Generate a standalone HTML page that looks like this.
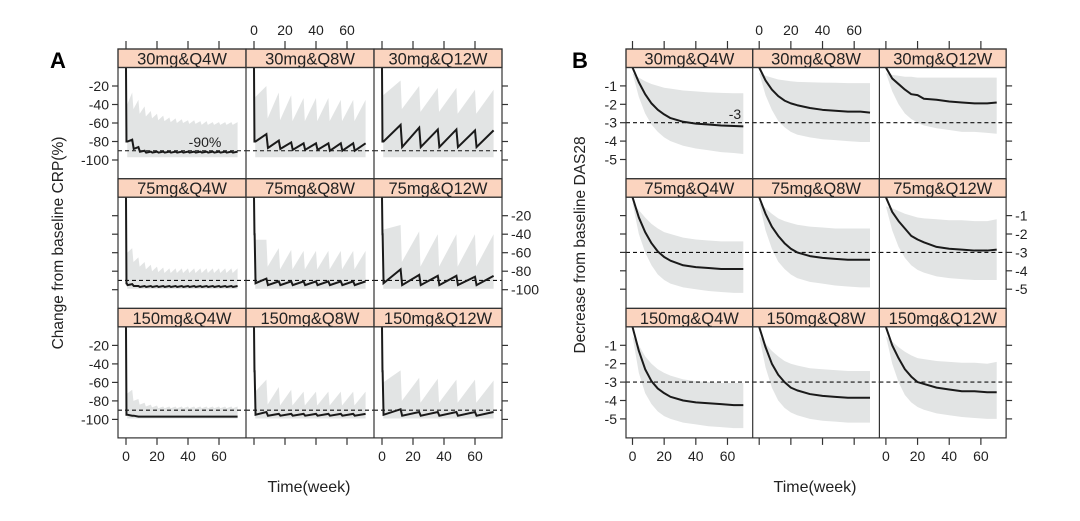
<!DOCTYPE html>
<html><head><meta charset="utf-8">
<style>
html,body{margin:0;padding:0;background:#fff;}
svg{display:block;font-family:"Liberation Sans",Arial,sans-serif;}
</style></head>
<body>
<svg id="chart" width="1080" height="521" viewBox="0 0 1080 521" xmlns="http://www.w3.org/2000/svg">
<text x="50" y="68" font-size="22" font-weight="bold">A</text>
<text x="572" y="68" font-size="22" font-weight="bold">B</text>
<text transform="translate(63,243) rotate(-90)" text-anchor="middle" font-size="15.5" fill="#222">Change from baseline CRP(%)</text>
<text transform="translate(585,245) rotate(-90)" text-anchor="middle" font-size="15.5" fill="#222">Decrease from baseline DAS28</text>
<text x="309" y="492" text-anchor="middle" font-size="16" fill="#222">Time(week)</text>
<text x="815" y="492" text-anchor="middle" font-size="16" fill="#222">Time(week)</text>
</svg>
<script>
// ---------- Data ----------
const doses = ["30mg", "75mg", "150mg"];
const regimens = ["Q4W", "Q8W", "Q12W"];
const intervals = [4, 8, 12];
const aTicks = [-20, -40, -60, -80, -100];
const bTicks = [-1, -2, -3, -4, -5];
const xTicks = [0, 20, 40, 60];
const aTarget = -90;
const bTarget = -3;

// Panel A (CRP % change): per dose event values
const aFirstDrop = [[-80,-80,-80],[-93,-40,-40],[-95,-48,-48]];
const aMedPost = [
 [[-80,-88,-91,-92,-92,-92,-92,-92,-92,-92,-92,-92,-92,-92,-92,-92,-92,-92],
  [-80,-87,-88,-89,-89,-89,-90,-90,-90],
  [-80,-86,-86,-86,-86,-86]],
 [[-95,-96,-97,-97,-97,-97,-97,-97,-97,-97,-97,-97,-97,-97,-97,-97,-97,-97],
  [-93,-95,-95,-95,-95,-95,-95,-95,-95],
  [-93,-95,-95,-95,-95,-95]],
 [[-95,-96,-97,-97,-97,-97,-97,-97,-97,-97,-97,-97,-97,-97,-97,-97,-97,-97],
  [-95,-96,-96,-96,-96,-96,-96,-96,-96],
  [-95,-96,-96,-96,-96,-96]]
];
const aMedPre = [
 [[-78,-86,-90,-91,-91,-91,-91,-91,-91,-91,-91,-91,-91,-91,-91,-91,-91,-91],
  [-72,-79,-81,-82,-82,-82,-82,-82,-82],
  [-62,-65,-67,-67,-68,-68]],
 [[-94,-96,-96,-96,-96,-96,-96,-96,-96,-96,-96,-96,-96,-96,-96,-96,-96,-96],
  [-88,-91,-91,-91,-91,-91,-91,-91,-91],
  [-78,-84,-85,-85,-86,-85]],
 [[-96,-97,-97,-97,-97,-97,-97,-97,-97,-97,-97,-97,-97,-97,-97,-97,-97,-97],
  [-92,-94,-94,-94,-94,-94,-94,-94,-94],
  [-89,-92,-92,-92,-92,-92]]
];
const aUpPost = [
 [[-40,-45,-50,-53,-55,-57,-58,-59,-60,-60,-61,-61,-62,-62,-62,-62,-62,-62],
  [-32,-55,-57,-58,-58,-58,-58,-58,-58],
  [-30,-45,-48,-48,-50,-50]],
 [[-60,-70,-75,-78,-80,-81,-82,-82,-82,-82,-82,-82,-82,-82,-82,-82,-82,-82],
  [-46,-75,-78,-78,-78,-78,-78,-78,-78],
  [-35,-70,-75,-75,-75,-75]],
 [[-72,-80,-84,-86,-87,-88,-88,-88,-88,-88,-88,-88,-88,-88,-88,-88,-88,-88],
  [-70,-84,-85,-85,-85,-85,-85,-85,-85],
  [-60,-80,-82,-82,-82,-82]]
];
const aUpPre = [
 [[-27,-35,-42,-47,-50,-52,-54,-55,-56,-57,-57,-58,-58,-59,-59,-59,-59,-59],
  [-20,-27,-30,-33,-33,-33,-35,-35,-35],
  [-14,-20,-22,-22,-24,-24]],
 [[-55,-65,-70,-73,-75,-76,-77,-77,-77,-77,-77,-77,-77,-77,-77,-77,-77,-77],
  [-46,-55,-57,-58,-58,-58,-58,-58,-58],
  [-30,-37,-40,-40,-40,-40]],
 [[-68,-78,-82,-84,-85,-86,-86,-86,-86,-86,-86,-86,-86,-86,-86,-86,-86,-86],
  [-57,-65,-68,-70,-70,-70,-70,-70,-70],
  [-47,-55,-56,-57,-57,-58]]
];
const aLow = [[-97,-97,-97],[-99,-99,-99],[-99,-99,-99]];

// Panel B (DAS28 decrease)
const bTimes = [0,4,8,12,16,20,24,32,40,48,56,64,70];
const bMed = [
 [[0,-0.8,-1.45,-1.95,-2.3,-2.55,-2.75,-2.95,-3.05,-3.1,-3.15,-3.18,-3.2],
  [0,-0.7,-1.2,-1.55,-1.8,-1.95,-2.05,-2.2,-2.3,-2.35,-2.4,-2.4,-2.45],
  [0,-0.6,-0.9,-1.2,-1.45,-1.5,-1.7,-1.75,-1.85,-1.9,-1.95,-1.95,-1.9]],
 [[0,-1.1,-1.9,-2.5,-2.95,-3.25,-3.45,-3.7,-3.8,-3.85,-3.9,-3.9,-3.9],
  [0,-0.9,-1.6,-2.1,-2.5,-2.8,-3.0,-3.2,-3.3,-3.35,-3.4,-3.4,-3.4],
  [0,-0.8,-1.3,-1.7,-2.1,-2.3,-2.45,-2.7,-2.8,-2.85,-2.9,-2.9,-2.85]],
 [[0,-1.3,-2.3,-2.95,-3.35,-3.6,-3.8,-4.0,-4.1,-4.15,-4.2,-4.25,-4.25],
  [0,-1.1,-2.0,-2.6,-3.0,-3.3,-3.45,-3.65,-3.75,-3.8,-3.85,-3.85,-3.85],
  [0,-1.0,-1.7,-2.3,-2.7,-3.0,-3.1,-3.3,-3.4,-3.5,-3.5,-3.55,-3.55]]
];
const bUp = [
 [[-0.3,-0.55,-0.75,-0.9,-1.0,-1.1,-1.15,-1.25,-1.3,-1.35,-1.38,-1.4,-1.4],
  [-0.3,-0.45,-0.55,-0.65,-0.7,-0.75,-0.78,-0.8,-0.82,-0.83,-0.85,-0.85,-0.85],
  [-0.3,-0.4,-0.45,-0.5,-0.5,-0.55,-0.55,-0.55,-0.55,-0.55,-0.55,-0.55,-0.55]],
 [[-0.3,-0.7,-1.1,-1.45,-1.7,-1.9,-2.0,-2.2,-2.3,-2.35,-2.4,-2.4,-2.4],
  [-0.3,-0.6,-0.9,-1.15,-1.3,-1.4,-1.5,-1.6,-1.65,-1.7,-1.7,-1.7,-1.7],
  [-0.5,-0.6,-0.75,-0.9,-1.0,-1.1,-1.15,-1.2,-1.25,-1.25,-1.3,-1.3,-1.2]],
 [[-0.5,-1.0,-1.6,-2.0,-2.3,-2.5,-2.65,-2.85,-2.95,-3.0,-3.05,-3.05,-3.05],
  [-0.5,-0.9,-1.3,-1.6,-1.85,-2.0,-2.1,-2.25,-2.3,-2.35,-2.4,-2.4,-2.4],
  [-0.5,-0.8,-1.1,-1.35,-1.55,-1.7,-1.75,-1.85,-1.9,-1.95,-1.95,-2.0,-1.9]]
];
const bLo = [
 [[-0.3,-1.6,-2.5,-3.1,-3.5,-3.8,-4.0,-4.25,-4.4,-4.5,-4.6,-4.65,-4.7],
  [-0.3,-1.5,-2.3,-2.9,-3.25,-3.5,-3.65,-3.8,-3.9,-3.95,-4.0,-4.05,-4.05],
  [-0.3,-1.3,-2.0,-2.5,-2.8,-3.0,-3.15,-3.3,-3.4,-3.5,-3.5,-3.55,-3.6]],
 [[-0.3,-2.0,-3.0,-3.7,-4.2,-4.5,-4.7,-4.9,-5.0,-5.1,-5.15,-5.2,-5.2],
  [-0.3,-1.8,-2.8,-3.5,-3.9,-4.2,-4.4,-4.6,-4.7,-4.8,-4.85,-4.9,-4.9],
  [-0.5,-1.8,-2.7,-3.3,-3.7,-3.95,-4.1,-4.3,-4.4,-4.45,-4.5,-4.5,-4.5]],
 [[-0.5,-2.5,-3.6,-4.2,-4.6,-4.85,-5.0,-5.2,-5.3,-5.4,-5.45,-5.5,-5.5],
  [-0.5,-2.2,-3.3,-4.0,-4.4,-4.65,-4.8,-5.0,-5.1,-5.15,-5.2,-5.2,-5.2],
  [-0.5,-2.0,-3.0,-3.7,-4.1,-4.35,-4.5,-4.7,-4.8,-4.9,-4.95,-5.0,-5.0]]
];

// ---------- Layout ----------
const svg = document.getElementById('chart');
const NS = 'http://www.w3.org/2000/svg';
const ROW_STEP = 129.7, STRIP_TOP = 49, STRIP_H = 18.5, PLOT_H = 111;
const A = {left:118, colW:128, x0:8, xs:1.55, ys:0.925, endT:72};
const B = {left:626, colW:126.7, x0:6.5, xs:1.583, ys:18.4, endT:70};
const STRIP = '#fbd4bf', BAND = '#e2e4e4', INK = '#1a1a1a';
const TICK_FS = 14, STRIP_FS = 16.5;

function el(tag, attrs, parent){
  const e = document.createElementNS(NS, tag);
  for (const k in attrs) e.setAttribute(k, attrs[k]);
  (parent||svg).appendChild(e); return e;
}
function plotTop(r){ return STRIP_TOP + r*ROW_STEP + STRIP_H; }
function xA(P,c,t){ return P.left + c*P.colW + P.x0 + t*P.xs; }
function yA(P,r,v){ return plotTop(r) + (-v)*P.ys; }

function drawFrame(P, tag, r, c){
  const g = el('g', {});
  
  
  const x = P.left + c*P.colW, sy = STRIP_TOP + r*ROW_STEP;
  const strip = el('rect', {x:x, y:sy, width:P.colW, height:STRIP_H, fill:STRIP, stroke:'#333', 'stroke-width':1.2}, g);
  
  
  const st = el('text', {x:x+P.colW/2, y:sy+STRIP_H-3, 'text-anchor':'middle', 'font-size':STRIP_FS, fill:'#222'}, g);
  st.textContent = doses[r]+'&'+regimens[c];
  
  
  return g;
}

function drawOuter(P, tag, yTicks, yTickY, labelLeftRows){
  const g = el('g', {});
  
  
  const W = P.colW*3, top = STRIP_TOP, bottom = plotTop(2)+PLOT_H;
  el('rect', {x:P.left, y:top, width:W, height:bottom-top, fill:'none', stroke:'#333', 'stroke-width':1.2}, g);
  for (let c=1;c<3;c++) el('line', {x1:P.left+c*P.colW, x2:P.left+c*P.colW, y1:top, y2:bottom, stroke:'#333','stroke-width':1.2}, g);
  for (let r=0;r<3;r++){
    const pt = plotTop(r);
    el('line', {x1:P.left, x2:P.left+W, y1:pt, y2:pt, stroke:'#333','stroke-width':1.2}, g);
    if (r>0) el('line', {x1:P.left, x2:P.left+W, y1:STRIP_TOP+r*ROW_STEP, y2:STRIP_TOP+r*ROW_STEP, stroke:'#333','stroke-width':1.2}, g);
    yTicks.forEach(v=>{
      const y = yTickY(r, v);
      el('line', {x1:P.left-6, x2:P.left, y1:y, y2:y, stroke:'#333','stroke-width':1.2}, g);
      el('line', {x1:P.left+W, x2:P.left+W+6, y1:y, y2:y, stroke:'#333','stroke-width':1.2}, g);
      const left = labelLeftRows.includes(r);
      const t = el('text', {x: left ? P.left-9 : P.left+W+9, y:y+5, 'text-anchor': left?'end':'start', 'font-size':TICK_FS, fill:'#222'}, g);
      t.textContent = v;
      
      
    });
  }
  for (let c=0;c<3;c++){
    xTicks.forEach(t=>{
      const x = xA(P,c,t);
      el('line', {x1:x, x2:x, y1:top-8, y2:top, stroke:'#333','stroke-width':1.2}, g);
      el('line', {x1:x, x2:x, y1:bottom, y2:bottom+7, stroke:'#333','stroke-width':1.2}, g);
      if (c===1){
        const tl = el('text', {x:x, y:top-14, 'text-anchor':'middle','font-size':TICK_FS, fill:'#222'}, g);
        tl.textContent = t;
        
        
      } else {
        const tl = el('text', {x:x, y:bottom+23, 'text-anchor':'middle','font-size':TICK_FS, fill:'#222'}, g);
        tl.textContent = t;
        
        
      }
    });
  }
}

// ---------- Panel A ----------
for (let r=0;r<3;r++) for (let c=0;c<3;c++){
  const g = drawFrame(A, 'crp', r, c);
  const iv = intervals[c];
  const mp = aMedPost[r][c], mq = aMedPre[r][c], up = aUpPost[r][c], uq = aUpPre[r][c];
  const X = t=>xA(A,c,t), Y = v=>yA(A,r,v);
  let upper = [];
  mp.forEach((_,i)=>{
    const t0 = i*iv, tEnd = Math.min((i+1)*iv, A.endT);
    upper.push([X(t0+0.8), Y(up[i])]);
    upper.push([X(tEnd), Y(uq[i])]);
  });
  upper.unshift([X(0.8), Y(aLow[r][c])]);
  const lower = [[X(A.endT), Y(aLow[r][c])]];
  const band = el('path', {d:'M'+upper.map(p=>p.join(',')).join('L')+'L'+lower.map(p=>p.join(',')).join('L')+'Z', fill:BAND}, g);
  
  
  const tl = el('line', {x1:A.left+c*A.colW, x2:A.left+(c+1)*A.colW, y1:Y(aTarget), y2:Y(aTarget), stroke:'#111','stroke-width':1.1,'stroke-dasharray':'4,3'}, g);
  
  
  let pts = [[X(0),Y(0)],[X(0.3),Y(aFirstDrop[r][c])],[X(0.4),Y(aFirstDrop[r][c])]];
  mp.forEach((_,i)=>{
    const t0 = i*iv, tEnd = Math.min((i+1)*iv, A.endT);
    pts.push([X(t0+1), Y(mp[i])]);
    pts.push([X(tEnd), Y(mq[i])]);
  });
  const med = el('path', {d:'M'+pts.map(p=>p.join(',')).join('L'), fill:'none', stroke:INK,'stroke-width':2}, g);
  
  
}
drawOuter(A, 'crp', aTicks, (r,v)=>yA(A,r,v), [0,2]);
const l90 = el('text', {x:205, y:147, 'text-anchor':'middle','font-size':14, fill:'#222'});
l90.textContent = '-90%';



// ---------- Panel B ----------
for (let r=0;r<3;r++) for (let c=0;c<3;c++){
  const g = drawFrame(B, 'das28', r, c);
  const X = t=>xA(B,c,t), Y = v=>yA(B,r,v);
  const up = bUp[r][c], lo = bLo[r][c], md = bMed[r][c];
  const upperPts = bTimes.map((t,i)=>[X(t),Y(up[i])]);
  const lowerPts = bTimes.map((t,i)=>[X(t),Y(lo[i])]).reverse();
  const band = el('path', {d:'M'+upperPts.concat(lowerPts).map(p=>p.join(',')).join('L')+'Z', fill:BAND}, g);
  
  
  const tl = el('line', {x1:B.left+c*B.colW, x2:B.left+(c+1)*B.colW, y1:Y(bTarget), y2:Y(bTarget), stroke:'#111','stroke-width':1.1,'stroke-dasharray':'4,3'}, g);
  
  
  const med = el('path', {d:'M'+bTimes.map((t,i)=>X(t)+','+Y(md[i])).join('L'), fill:'none', stroke:INK,'stroke-width':2,'stroke-linejoin':'round'}, g);
  
  
}
drawOuter(B, 'das28', bTicks, (r,v)=>yA(B,r,v), [0,2]);
const l3 = el('text', {x:735, y:119, 'text-anchor':'middle','font-size':14, fill:'#222'});
l3.textContent = '-3';


</script>
</body></html>
